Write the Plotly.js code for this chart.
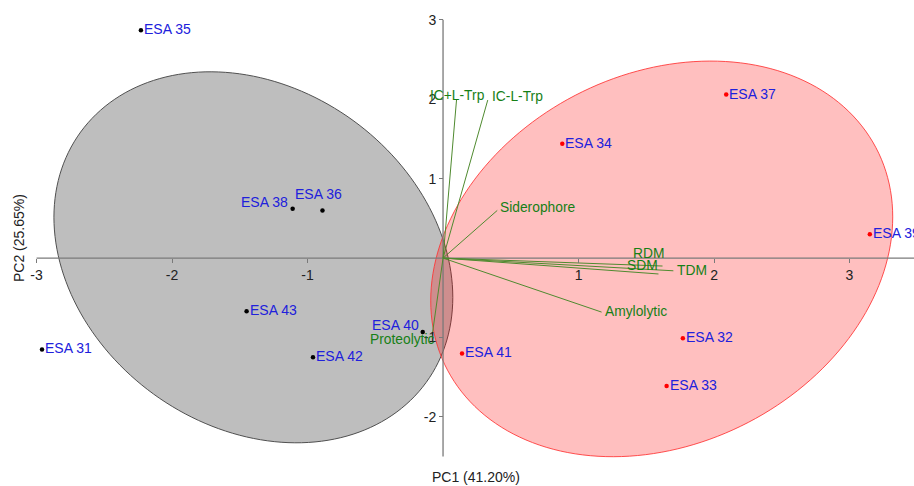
<!DOCTYPE html>
<html>
<head>
<meta charset="utf-8">
<script src="https://cdn.plot.ly/plotly-3.0.1.min.js"></script>
<style>html,body{margin:0;padding:0;background:#fff;}#chart{width:914px;height:486px;}</style>
</head>
<body>
<div id="chart"></div>
<script>
// ---- sample scores ----
const sampleNames = ["ESA 31","ESA 35","ESA 36","ESA 38","ESA 40","ESA 42","ESA 43",
                     "ESA 32","ESA 33","ESA 34","ESA 37","ESA 39","ESA 41"];
const sampleX = [-2.96,-2.23,-0.89,-1.11,-0.15,-0.96,-1.45, 1.77,1.65,0.88,2.09,3.15,0.14];
const sampleY = [-1.15, 2.87, 0.60, 0.62,-0.93,-1.25,-0.67,-1.01,-1.61,1.44,2.06,0.30,-1.20];
const sampleGroup = [1,1,1,1,1,1,1, 2,2,2,2,2,2];

// ---- variable loadings ----
const loadNames = ["IC+L-Trp","IC-L-Trp","Siderophore","RDM","SDM","TDM","Amylolytic","Proteolytic"];
const loadX = [0.10, 0.33, 0.40, 1.62, 1.59, 1.70, 1.17, -0.08];
const loadY = [2.00, 1.99, 0.60, -0.10, -0.20, -0.16, -0.68, -0.97];

// ---- group ellipses: centre, sd x, sd y, correlation ----
const ellCX = [-1.40, 1.614];
const ellCY = [0.01, -0.01];
const ellSX = [1.472, 1.705];
const ellSY = [2.336, 2.491];
const ellR  = [-0.216, 0.212];

// ---- axis ticks / titles ----
const xTicks = [-3,-2,-1,1,2,3];
const yTicks = [-2,-1,1,2,3];
const xTitle = "PC1 (41.20%)";
const yTitle = "PC2 (25.65%)";

// ---- layout helpers (styles, offsets) ----
const xRange = [-3.27, 3.476];
const yRange = [-2.87, 3.25];
const FONT = "Arial, 'Liberation Sans', sans-serif";
const groupColor = {1: "#000000", 2: "#ff0000"};
const labelPlace = { // anchor, xshift, yshift (px)
  "ESA 36": ["center", -4, 16],
  "ESA 38": ["right", -3, 7],
  "ESA 40": ["right", -2, 7]
};
const loadLabelPlace = [
  ["center", 1, 4], ["left", 2, 4], ["left", 1, 3], ["center", -14, 13],
  ["center", -16, 8], ["left", 2, 0], ["left", 1, 1], ["right", 5, -4]
];

function ellipsePath(cx, cy, sx, sy, r) {
  const n = 180; let d = "";
  const q = Math.sqrt(1 - r * r);
  for (let i = 0; i <= n; i++) {
    const t = 2 * Math.PI * i / n;
    const x = cx + sx * Math.cos(t);
    const y = cy + sy * (r * Math.cos(t) + q * Math.sin(t));
    d += (i === 0 ? "M" : "L") + x.toFixed(4) + "," + y.toFixed(4);
  }
  return d + "Z";
}

const shapes = [
  {type: "path", xref: "x", yref: "y", layer: "below",
   path: ellipsePath(ellCX[0], ellCY[0], ellSX[0], ellSY[0], ellR[0]),
   fillcolor: "#bebebe", line: {color: "#505050", width: 1}},
  {type: "path", xref: "x", yref: "y", layer: "below",
   path: ellipsePath(ellCX[1], ellCY[1], ellSX[1], ellSY[1], ellR[1]),
   fillcolor: "rgba(255,0,0,0.25)", line: {color: "rgba(255,50,50,0.85)", width: 1}},
  {type: "line", xref: "x", yref: "y", layer: "below",
   x0: xTicks[0], x1: xRange[1], y0: 0, y1: 0, line: {color: "#7a7a7a", width: 1.3}},
  {type: "line", xref: "x", yref: "y", layer: "below",
   x0: 0, x1: 0, y0: -2.5, y1: yTicks[yTicks.length - 1], line: {color: "#7a7a7a", width: 1.3}}
];

const traces = [];
// loading lines
for (let i = 0; i < loadNames.length; i++) {
  traces.push({
    type: "scatter", mode: "lines", x: [0, loadX[i]], y: [0, loadY[i]],
    line: {color: "#4f8a2f", width: 1}, hoverinfo: "skip", showlegend: false
  });
}
// sample points
[1, 2].forEach(g => {
  const idx = sampleGroup.map((v, i) => v === g ? i : -1).filter(i => i >= 0);
  traces.push({
    type: "scatter", mode: "markers",
    x: idx.map(i => sampleX[i]), y: idx.map(i => sampleY[i]),
    marker: {color: groupColor[g], size: 4.5}, showlegend: false, hoverinfo: "skip"
  });
});

const annotations = [];
sampleNames.forEach((nm, i) => {
  const p = labelPlace[nm] || ["left", 1, 1];
  annotations.push({x: sampleX[i], y: sampleY[i], xref: "x", yref: "y", text: nm,
    showarrow: false, xanchor: p[0], yanchor: "middle", xshift: p[1], yshift: p[2],
    font: {family: FONT, size: 14, color: "#2020dc"}});
});
loadNames.forEach((nm, i) => {
  const p = loadLabelPlace[i];
  annotations.push({x: loadX[i], y: loadY[i], xref: "x", yref: "y", text: nm,
    showarrow: false, xanchor: p[0], yanchor: "middle", xshift: p[1], yshift: p[2],
    font: {family: FONT, size: 13.8, color: "#168016"}});
});
// axis titles (paper fractions of the 914x486 figure)
annotations.push({x: 476 / 914, y: 1 - 477 / 486, xref: "paper", yref: "paper", text: xTitle,
  showarrow: false, xanchor: "center", yanchor: "middle",
  font: {family: FONT, size: 14, color: "#222"}});
annotations.push({x: 19 / 914, y: 1 - 238 / 486, xref: "paper", yref: "paper", text: yTitle,
  showarrow: false, xanchor: "center", yanchor: "middle", textangle: -90,
  font: {family: FONT, size: 14, color: "#222"}});

const layout = {
  width: 914, height: 486,
  margin: {l: 0, r: 0, t: 0, b: 0, pad: 0},
  paper_bgcolor: "#fff", plot_bgcolor: "#fff",
  showlegend: false,
  font: {family: FONT, size: 14, color: "#222"},
  xaxis: {range: xRange, showgrid: false, zeroline: false, showline: false,
    tickvals: xTicks, ticktext: xTicks.map(String), ticks: "outside", ticklen: 4,
    tickcolor: "#7a7a7a", anchor: "free", position: (0 - yRange[0]) / (yRange[1] - yRange[0]),
    tickfont: {family: FONT, size: 14, color: "#222"}, fixedrange: true},
  yaxis: {range: yRange, showgrid: false, zeroline: false, showline: false,
    tickvals: yTicks, ticktext: yTicks.map(String), ticks: "outside", ticklen: 4,
    tickcolor: "#7a7a7a", anchor: "free", position: (0 - xRange[0]) / (xRange[1] - xRange[0]),
    tickfont: {family: FONT, size: 14, color: "#222"}, fixedrange: true},
  shapes: shapes,
  annotations: annotations
};

Plotly.newPlot("chart", traces, layout, {displayModeBar: false, staticPlot: true});
</script>
</body>
</html>
